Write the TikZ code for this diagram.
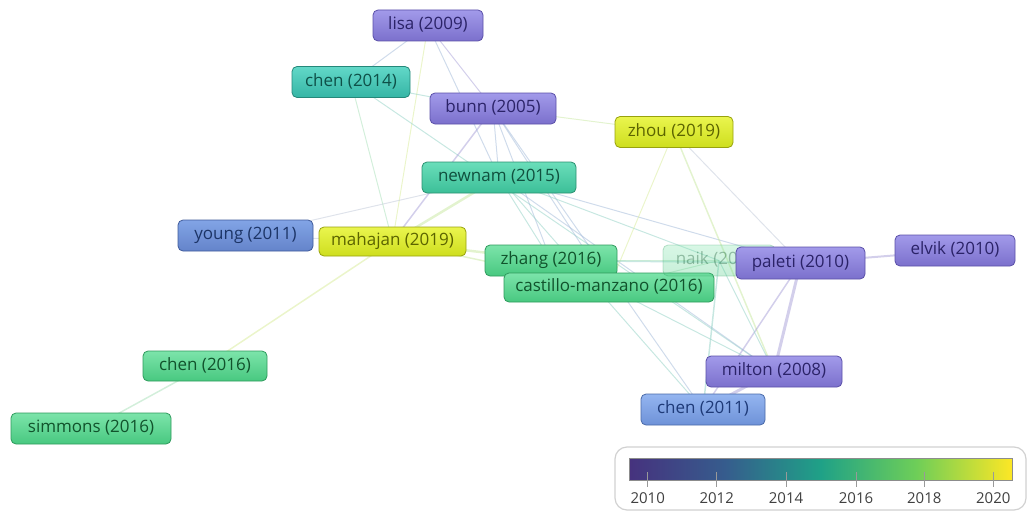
\documentclass[tikz,border=0pt]{standalone}
\usepackage{fontspec}
\setmainfont{Open Sans}
\usetikzlibrary{calc}
\pgfdeclarelayer{bg}
\pgfsetlayers{bg,main}
\definecolor{vA}{HTML}{46327E}
\definecolor{vB}{HTML}{365C8D}
\definecolor{vC}{HTML}{1FA187}
\definecolor{vD}{HTML}{6ECE58}
\definecolor{vE}{HTML}{FDE725}
\pgfdeclarehorizontalshading{viridis}{100bp}{color(0bp)=(vA); color(25bp)=(vA); color(37.5bp)=(vB); color(50bp)=(vC); color(62.5bp)=(vD); color(75bp)=(vE); color(100bp)=(vE)}
\definecolor{puT}{HTML}{A29AEA}\definecolor{puB}{HTML}{7B70CC}\definecolor{puD}{HTML}{5A4FA8}\definecolor{puX}{HTML}{2B2368}
\definecolor{blT}{HTML}{82A4E6}\definecolor{blB}{HTML}{6484CA}\definecolor{blD}{HTML}{3F5A9A}\definecolor{blX}{HTML}{1C3466}
\definecolor{lbT}{HTML}{94B5F0}\definecolor{lbB}{HTML}{6E92D8}\definecolor{lbD}{HTML}{4A6AA8}\definecolor{lbX}{HTML}{1E3A78}
\definecolor{tlT}{HTML}{62D8C8}\definecolor{tlB}{HTML}{35B5A5}\definecolor{tlD}{HTML}{25887A}\definecolor{tlX}{HTML}{0E5048}
\definecolor{nwT}{HTML}{6ADEBA}\definecolor{nwB}{HTML}{3CBF98}\definecolor{nwD}{HTML}{2A9070}\definecolor{nwX}{HTML}{10503E}
\definecolor{grT}{HTML}{7CE4AA}\definecolor{grB}{HTML}{48C880}\definecolor{grD}{HTML}{2E9A5C}\definecolor{grX}{HTML}{11532C}
\definecolor{yeT}{HTML}{EAF54E}\definecolor{yeB}{HTML}{CEDE1E}\definecolor{yeD}{HTML}{98A20E}\definecolor{yeX}{HTML}{5C6400}
% edge colours
\definecolor{eBlue}{HTML}{A0B8D8}
\definecolor{eLime}{HTML}{C8E8A0}
\definecolor{ePurp}{HTML}{A8A0D8}
\definecolor{eTeal}{HTML}{90D0C4}
\definecolor{eGreen}{HTML}{A8E0B8}
\definecolor{eYell}{HTML}{D8EC98}
\definecolor{eGrey}{HTML}{C0C8D8}
\tikzset{
  box/.style={rounded corners=5pt, draw, line width=0.8pt, minimum height=31pt, inner sep=0pt,
    font=\fontsize{17}{17}\selectfont, text height=12.5pt, text depth=3.8pt},
  purp/.style={box, top color=puT, bottom color=puB, draw=puD, text=puX},
  blu/.style={box, top color=blT, bottom color=blB, draw=blD, text=blX},
  lblu/.style={box, top color=lbT, bottom color=lbB, draw=lbD, text=lbX},
  teal/.style={box, top color=tlT, bottom color=tlB, draw=tlD, text=tlX},
  newn/.style={box, top color=nwT, bottom color=nwB, draw=nwD, text=nwX},
  gren/.style={box, top color=grT, bottom color=grB, draw=grD, text=grX},
  yelw/.style={box, top color=yeT, bottom color=yeB, draw=yeD, text=yeX},
  edge/.style={line width=1pt, draw opacity=0.5},
  tickmark/.style={draw=gray!80, line width=1pt},
  ticklabel/.style={font=\fontsize{15}{15}\selectfont, text=black!75, inner sep=0pt}
}
\begin{document}
\begin{tikzpicture}[x=1pt,y=-1pt]
\useasboundingbox (0,0) rectangle (1028,511);
% nodes
\node[purp, minimum width=110pt] (lisa) at (428,25.5) {lisa (2009)};
\node[teal, minimum width=118pt] (chenA) at (351,82) {chen (2014)};
\node[purp, minimum width=126pt] (bunn) at (493,108.5) {bunn (2005)};
\node[yelw, minimum width=118pt] (zhou) at (674,132) {zhou (2019)};
\node[newn, minimum width=154pt] (newnam) at (499,177.5) {newnam (2015)};
\node[blu, minimum width=135pt] (young) at (245.5,235.5) {young (2011)};
\node[yelw, minimum width=147pt, minimum height=29pt] (mahajan) at (392.5,241.5) {mahajan (2019)};
\node[gren, minimum width=132pt] (zhang) at (551,260.5) {zhang (2016)};
\node[gren, minimum width=210pt, minimum height=29pt] (castillo) at (609,287.5) {castillo-manzano (2016)};
\node[gren, minimum width=112pt, fill opacity=0.3, draw opacity=0.3, text opacity=0.35] (naik) at (719,260.5) {naik (2016)};
\node[purp, minimum width=129pt, minimum height=32pt] (paleti) at (800.5,263) {paleti (2010)};
\node[purp, minimum width=120pt] (elvik) at (955,250.5) {elvik (2010)};
\node[purp, minimum width=136pt] (milton) at (774,371.5) {milton (2008)};
\node[lblu, minimum width=124pt] (chenB) at (703,409.5) {chen (2011)};
\node[gren, minimum width=124pt, minimum height=30pt] (chenC) at (205,366) {chen (2016)};
\node[gren, minimum width=160pt] (simmons) at (91,428.5) {simmons (2016)};
% edges
\begin{pgfonlayer}{bg}
\draw[edge, color=eBlue] (lisa.center) -- (chenA.center);
\draw[edge, color=eYell] (lisa.center) -- (mahajan.center);
\draw[edge, color=ePurp] (lisa.center) -- (bunn.center);
\draw[edge, color=eBlue] (lisa.center) -- (newnam.center);
\draw[edge, color=eTeal] (chenA.center) -- (bunn.center);
\draw[edge, color=eGreen] (chenA.center) -- (mahajan.center);
\draw[edge, color=eTeal] (chenA.center) -- (milton.center);
\draw[edge, color=eLime] (bunn.center) -- (zhou.center);
\draw[edge, color=eBlue] (bunn.center) -- (newnam.center);
\draw[edge, color=ePurp, line width=1.5pt] (bunn.center) -- (mahajan.center);
\draw[edge, color=eBlue] (bunn.center) -- (zhang.center);
\draw[edge, color=eBlue] (bunn.center) -- (castillo.center);
\draw[edge, color=eBlue] (bunn.center) -- (chenB.center);
\draw[edge, color=eLime, line width=2.5pt] (newnam.center) -- (mahajan.center);
\draw[edge, color=eGrey] (young.center) -- (newnam.center);
\draw[edge, color=eTeal] (newnam.center) -- (zhang.center);
\draw[edge, color=eTeal] (newnam.center) -- (chenB.center);
\draw[edge, color=eTeal] (newnam.center) -- (naik.center);
\draw[edge, color=eBlue] (newnam.center) -- (milton.center);
\draw[edge, color=eBlue] (newnam.center) -- (paleti.center);
\draw[edge, color=eLime, line width=2.5pt] (mahajan.center) -- (zhang.center);
\draw[edge, color=eLime, line width=1.5pt] (mahajan.center) -- (castillo.center);
\draw[edge, color=eYell, line width=1.5pt] (mahajan.center) -- (chenC.center);
\draw[edge, color=eGrey] (mahajan.center) -- (young.center);
\draw[edge, color=eGreen, line width=1.5pt] (chenC.center) -- (simmons.center);
\draw[edge, color=eYell] (zhou.center) -- (castillo.center);
\draw[edge, color=eLime, line width=1.5pt] (zhou.center) -- (milton.center);
\draw[edge, color=eGrey] (zhou.center) -- (paleti.center);
\draw[edge, color=ePurp, line width=2pt] (paleti.center) -- (elvik.center);
\draw[edge, color=ePurp, line width=3pt] (paleti.center) -- (milton.center);
\draw[edge, color=ePurp, line width=1.5pt] (paleti.center) -- (chenB.center);
\draw[edge, color=eTeal, line width=1.5pt] (zhang.center) -- (paleti.center);
\draw[edge, color=eGreen] (zhang.center) -- (naik.center);
\draw[edge, color=eGreen] (castillo.center) -- (naik.center);
\draw[edge, color=eTeal] (castillo.center) -- (milton.center);
\draw[edge, color=eTeal, line width=1.5pt] (naik.center) -- (chenB.center);
\draw[edge, color=eTeal] (naik.center) -- (milton.center);
\draw[edge, color=ePurp, line width=3pt] (chenB.center) -- (milton.center);
\end{pgfonlayer}
% legend
\node[draw=black!18, line width=1.2pt, rounded corners=12pt, minimum width=411pt, minimum height=63pt, inner sep=0pt, fill=white] (legend) at (820.5,478.5) {};
\shade[shading=viridis] (629,458) rectangle (1012,480);
\draw[draw=gray!90, line width=0.8pt] (629,458) rectangle (1012,480);
\foreach \x/\l in {647.7/2010,716.7/2012,786/2014,856/2016,924.3/2018,993.3/2020}{
  \draw[tickmark] (\x,472) -- (\x,487);
  \node[ticklabel] (lab\l) at (\x,498) {\l};
}
\end{tikzpicture}
\end{document}
